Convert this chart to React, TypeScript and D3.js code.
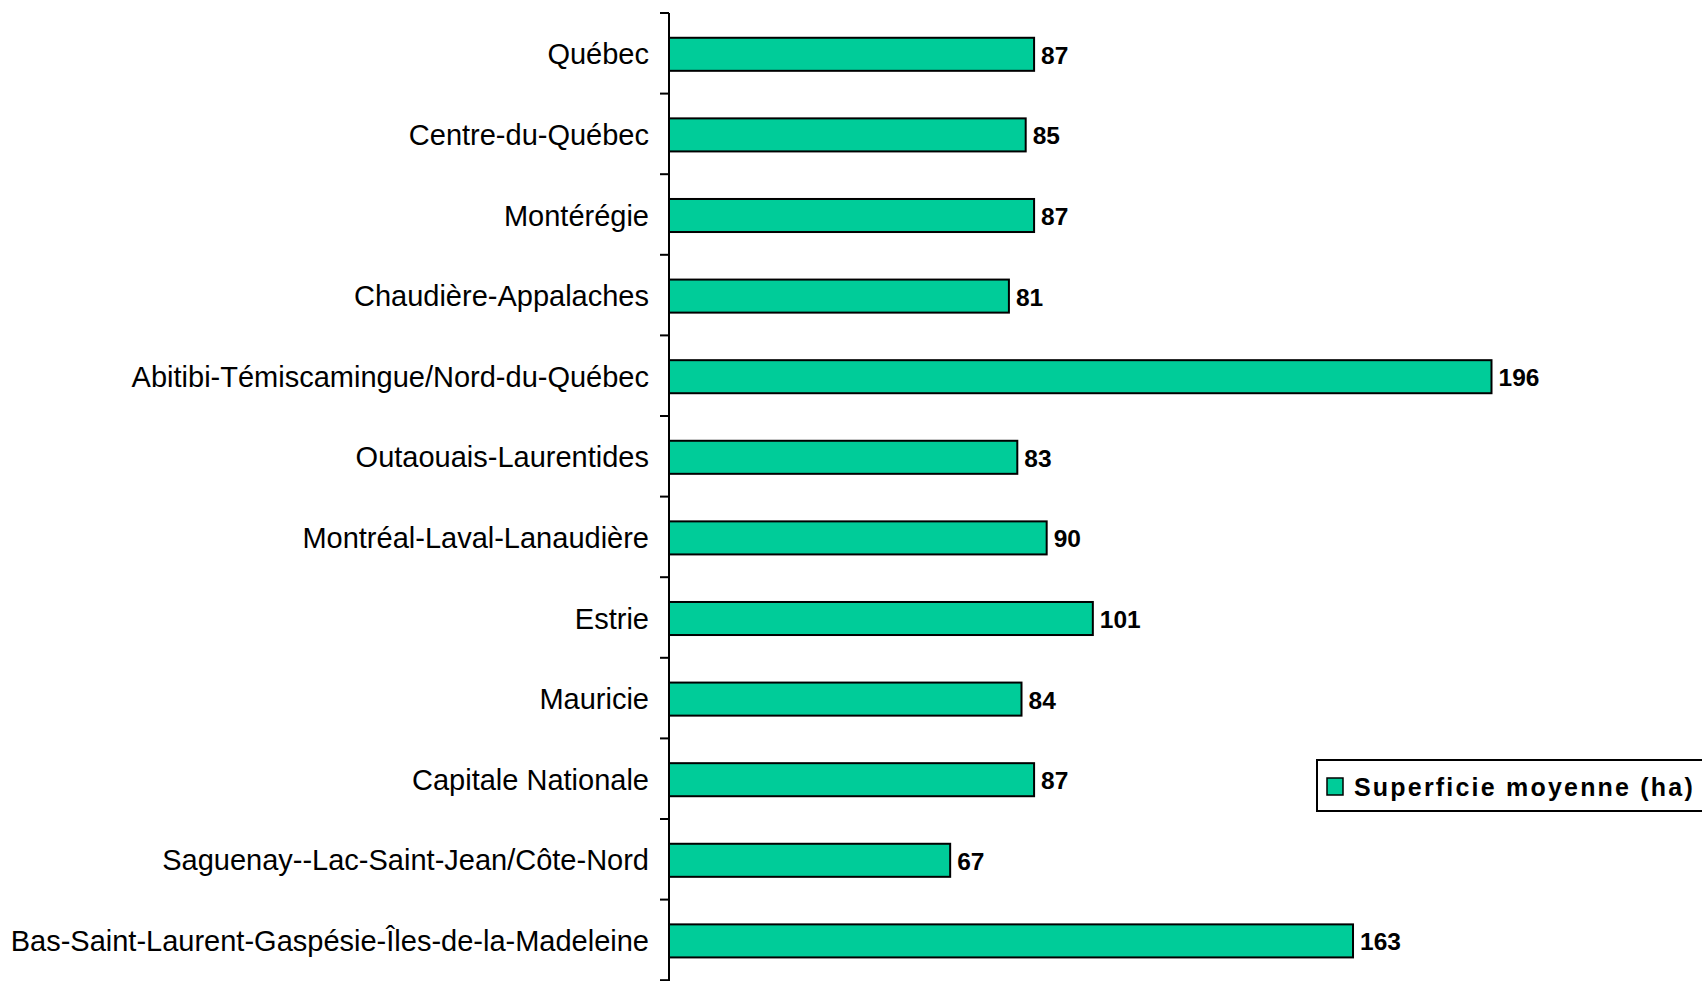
import React from 'react';
import * as d3 from 'd3';

const regions = [
    'Québec',
    'Centre-du-Québec',
    'Montérégie',
    'Chaudière-Appalaches',
    'Abitibi-Témiscamingue/Nord-du-Québec',
    'Outaouais-Laurentides',
    'Montréal-Laval-Lanaudière',
    'Estrie',
    'Mauricie',
    'Capitale Nationale',
    'Saguenay--Lac-Saint-Jean/Côte-Nord',
    'Bas-Saint-Laurent-Gaspésie-Îles-de-la-Madeleine',
];
const superficie = [87, 85, 87, 81, 196, 83, 90, 101, 84, 87, 67, 163];
const seriesName = 'Superficie moyenne (ha)';

const width = 1702;
const height = 981;
const axisX = 669;
const barColor = '#00CC99';
const font = 'Arial, "Liberation Sans", sans-serif';

export default function App() {
    const y = d3.scaleBand<string>()
        .domain(regions)
        .range([14, 14 + 12 * 80.6])
        .paddingInner(0.59)
        .paddingOuter(0.295);
    const x = d3.scaleLinear().domain([0, 196]).range([axisX, 1491.5]);

    const tickYs = d3.range(regions.length + 1).map(i => 13 + i * y.step());

    return (
        <div style={{ position: 'fixed', left: 0, top: 0, width, height, background: '#fff' }}>
            <svg width={width} height={height} style={{ display: 'block' }}>
                {/* axis */}
                <line x1={axisX} x2={axisX} y1={13} y2={height} stroke="#000" strokeWidth={2} />
                {tickYs.map((ty, i) => (
                    <line key={i} x1={axisX - 9} x2={axisX} y1={ty} y2={ty} stroke="#000" strokeWidth={2} />
                ))}

                {regions.map((r, i) => {
                    const by = y(r)!;
                    const bh = y.bandwidth();
                    const cy = by + bh / 2;
                    return (
                        <g key={r}>
                            <rect x={x(0)} y={by} width={x(superficie[i]) - x(0)} height={bh}
                                fill={barColor} stroke="#000" strokeWidth={2} />
                            <text x={axisX - 20} y={cy} textAnchor="end" dominantBaseline="central"
                                fontFamily={font} fontSize={29} fill="#000">{r}</text>
                            <text x={x(superficie[i]) + 7} y={cy + 1} dominantBaseline="central"
                                fontFamily={font} fontSize={24.5} fontWeight="bold" fill="#000">{superficie[i]}</text>
                        </g>
                    );
                })}

                {/* legend */}
                <rect x={1317} y={760} width={400} height={51} fill="#fff" stroke="#000" strokeWidth={2} />
                <rect x={1327} y={778} width={16} height={17} fill={barColor} stroke="#000" strokeWidth={1.5} />
                <text x={1354} y={787} dominantBaseline="central" fontFamily={font} fontSize={25}
                    fontWeight="bold" letterSpacing={2.2} fill="#000">{seriesName}</text>
            </svg>
        </div>
    );
}
